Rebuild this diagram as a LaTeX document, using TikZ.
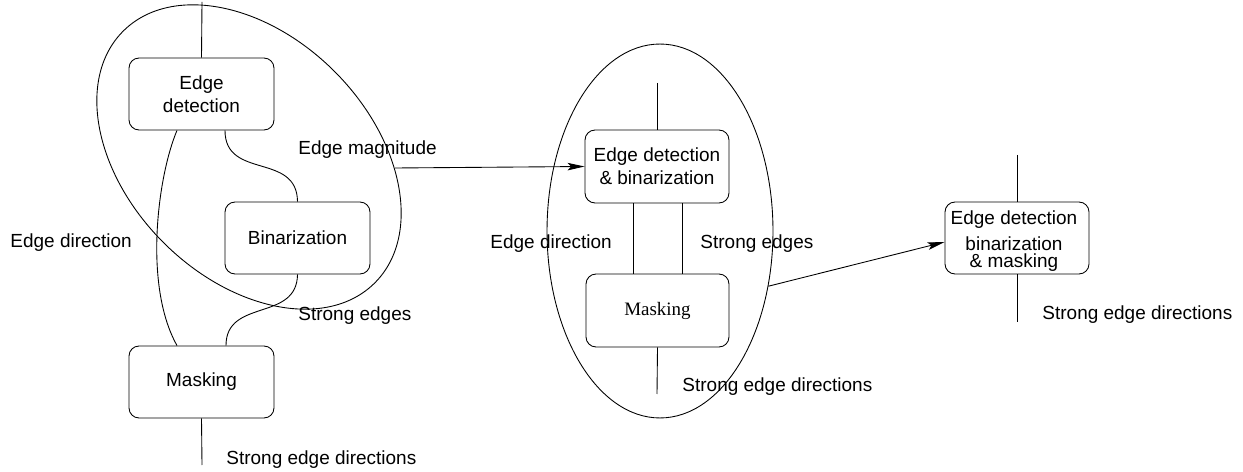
\documentclass[tikz,border=0pt]{standalone}
\usepackage{fontspec}
\setmainfont{Liberation Sans}
\newfontfamily\serifmask{Liberation Serif}
\usetikzlibrary{arrows.meta,shapes.geometric,calc}
\begin{document}
\begin{tikzpicture}[x=0.02cm,y=-0.02cm,
  line width=0.5pt,
  every node/.style={font=\fontsize{10.8}{13}\selectfont},
  procbox/.style={draw,rounded corners=0.2cm,minimum width=2.9cm,minimum height=1.44cm,align=center,inner sep=1pt},
  lbl/.style={anchor=west,inner sep=0pt},
  arr/.style={-{Stealth[length=0.34cm,width=0.15cm,inset=0.07cm]}},
  oval/.style={draw,ellipse,inner sep=0pt}]
\useasboundingbox (0,0) rectangle (1243,472);

% ---------- left group ----------
\node[oval,rotate=-45,minimum width=7.12cm,minimum height=4.84cm] (e1) at (249,157) {};
\node[procbox] (b1) at (201.5,94) {Edge\\detection};
\node[procbox] (b2) at (297.5,238) {Binarization};
\node[procbox] (b3) at (201.5,382) {Masking};
\coordinate (t1) at (202,2);
\coordinate (o1) at (202,465);
\draw (t1) -- (b1.north);
\draw (b3.south) -- (o1);
\draw ([xshift=-0.49cm]b1.south) .. controls (158,175) and (143,285) .. ([xshift=-0.49cm]b3.north);
\draw ([xshift=0.47cm]b1.south) .. controls (225,180) and (297,152) .. (b2.north);
\draw (b2.south) .. controls (297,322) and (226,298) .. ([xshift=0.49cm]b3.north);
\node[lbl] (l1) at (10,243) {Edge direction};
\node[lbl] (l2) at (298,150) {Edge magnitude};
\node[lbl] (l3) at (298,316) {Strong edges};
\node[lbl] (l4) at (226,460) {Strong edge directions};

% ---------- middle group ----------
\node[oval,minimum width=4.52cm,minimum height=7.48cm] (e2) at (660,231) {};
\node[procbox,minimum width=2.88cm,minimum height=1.46cm] (m1) at (657,166.5) {Edge detection\\\& binarization};
\node[procbox,minimum width=2.86cm,minimum height=1.46cm] (m2) at (657.5,310.5) {\serifmask Masking};
\coordinate (t2) at (657,83);
\coordinate (o2) at (657,394);
\draw (t2) -- (m1.north);
\draw (m2.south) -- (o2);
\draw ([xshift=-0.48cm]m1.south) -- ([xshift=-0.48cm]m1.south |- m2.north);
\draw ([xshift=0.5cm]m1.south) -- ([xshift=0.5cm]m1.south |- m2.north);
\node[lbl] (l5) at (490,244) {Edge direction};
\node[lbl] (l6) at (700,244) {Strong edges};
\node[lbl] (l7) at (682,387) {Strong edge directions};

\coordinate (a1) at (395,168);
\draw[arr] (a1) -- (m1.west);

% ---------- right group ----------
\node[procbox,minimum width=2.88cm] (r1) at (1017,238) {};
\node[align=center,inner sep=0pt] (r1t) at (1014,241) {Edge detection\\[1.7pt]binarization\\[-3.4pt]\& masking};
\coordinate (t3) at (1017,155);
\coordinate (o3) at (1017,322);
\draw (t3) -- (r1.north);
\draw (r1.south) -- (o3);
\node[lbl] (l8) at (1042,315) {Strong edge directions};

\draw[arr] (e2.-27.8) -- ([yshift=-0.08cm]r1.west);
\end{tikzpicture}
\end{document}
